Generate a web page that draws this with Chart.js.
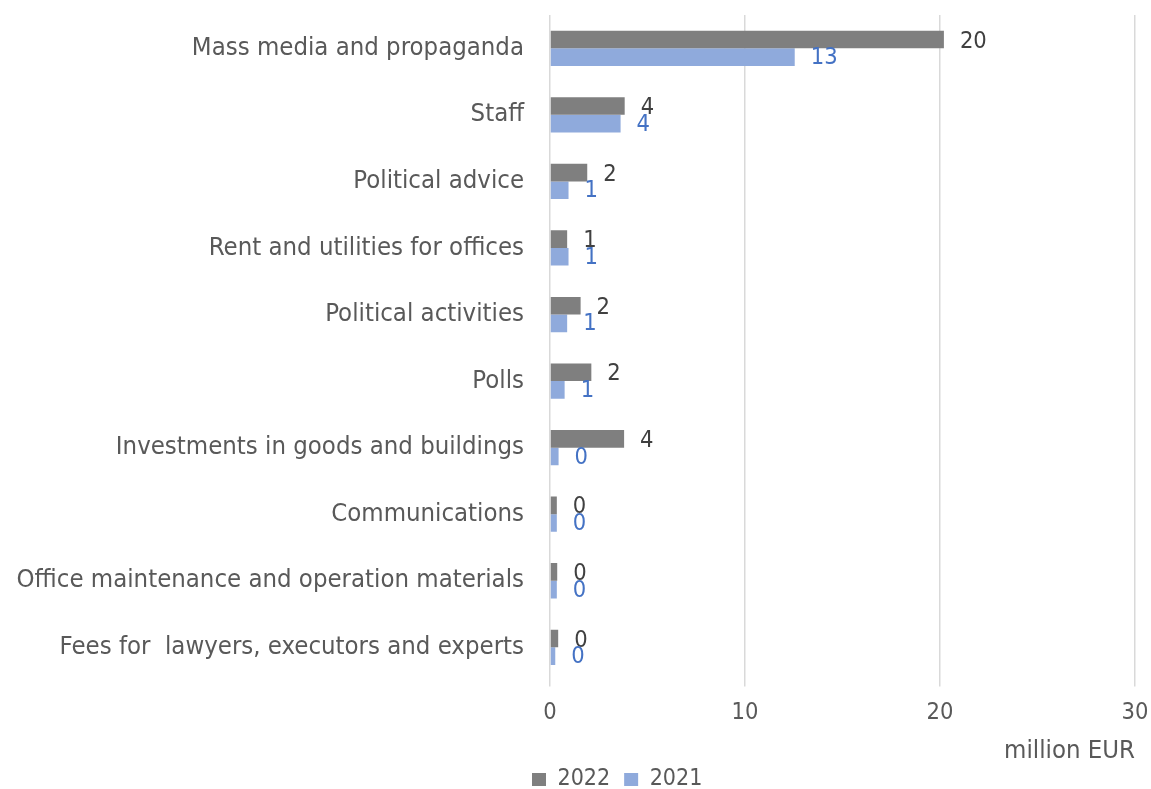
<!DOCTYPE html>
<html>
<head>
<meta charset="utf-8">
<title>Campaign spending by category</title>
<script src="https://cdn.jsdelivr.net/npm/chart.js@4.4.1/dist/chart.umd.min.js"></script>
<style>
  html, body { margin: 0; padding: 0; background: #fff; }
  canvas { display: block; }
</style>
</head>
<body>
<canvas id="spendingChart" width="1151" height="789"></canvas>
<script>
const categories = [
    'Mass media and propaganda',
    'Staff',
    'Political advice',
    'Rent and utilities for offices',
    'Political activities',
    'Polls',
    'Investments in goods and buildings',
    'Communications',
    'Office maintenance and operation materials',
    'Fees for  lawyers, executors and experts'
];
const seriesNames = ['2022', '2021'];
const values2022 = [20.2, 3.83, 1.91, 0.88, 1.57, 2.12, 3.8, 0.35, 0.37, 0.42];
const values2021 = [12.55, 3.62, 0.95, 0.95, 0.88, 0.75, 0.44, 0.35, 0.35, 0.27];
const xTicks = [0, 10, 20, 30];

const FONT = '"DejaVu Sans Condensed", "DejaVu Sans", sans-serif';
const textGray = '#595959';
const barColors = ['#7F7F7F', '#8FAADC'];
const labelColors = ['#404040', '#4472C4'];

Chart.defaults.font.family = FONT;
Chart.defaults.font.size = 22;
Chart.defaults.color = textGray;

// numbers printed just past the end of each bar
const valueLabels = {
    id: 'valueLabels',
    afterDatasetsDraw(chart) {
        const ctx = chart.ctx;
        ctx.save();
        ctx.font = '23.5px ' + FONT;
        ctx.textBaseline = 'middle';
        ctx.textAlign = 'left';
        chart.data.datasets.forEach((ds, i) => {
            ctx.fillStyle = labelColors[i];
            chart.getDatasetMeta(i).data.forEach((bar, j) => {
                ctx.fillText(String(Math.round(ds.data[j])), bar.x + 16, bar.y + (i === 0 ? 2 : 1));
            });
        });
        ctx.restore();
    }
};

// legend sits under the value axis, a bit lower than the layout puts it
const legendShift = {
    id: 'legendShift',
    afterLayout(chart) {
        const lg = chart.legend;
        const w = lg.right - lg.left;
        lg.left = 518;
        lg.right = 518 + w;
        lg.top += 12;
        lg.bottom += 12;
    }
};

new Chart(document.getElementById('spendingChart'), {
    type: 'bar',
    data: {
        labels: categories,
        datasets: [
            { label: seriesNames[0], data: values2022, backgroundColor: barColors[0] },
            { label: seriesNames[1], data: values2021, backgroundColor: barColors[1] }
        ]
    },
    options: {
        indexAxis: 'y',
        responsive: false,
        animation: false,
        datasets: {
            bar: { categoryPercentage: 0.53, barPercentage: 1, borderWidth: 0 }
        },
        layout: { padding: { top: 15, right: 16, left: 0, bottom: 0 } },
        plugins: {
            tooltip: { enabled: false },
            legend: {
                position: 'bottom',
                align: 'start',
                labels: { boxWidth: 14, boxHeight: 13, padding: 14, color: textGray, font: { size: 23 } }
            }
        },
        scales: {
            x: {
                min: xTicks[0],
                max: xTicks[xTicks.length - 1],
                afterBuildTicks: s => { s.ticks = xTicks.map(v => ({ value: v })); },
                afterFit: s => {
                    s.height = 61.4;
                    s.paddingLeft = 0;
                    s.paddingRight = 0;
                },
                grid: { color: '#D9D9D9', lineWidth: 1.5, tickLength: 6 },
                border: { display: false },
                ticks: { color: textGray, padding: 12, font: { size: 23.5 } },
                title: {
                    display: true,
                    text: 'million EUR',
                    align: 'end',
                    color: textGray,
                    font: { size: 25.5 },
                    padding: { top: 0, bottom: -25 }
                }
            },
            y: {
                grid: { display: false, drawTicks: false },
                border: { display: false },
                ticks: { color: textGray, padding: 26, autoSkip: false, font: { size: 25.5 } },
                afterFit: s => {
                    s.width = 550;
                    s.paddingTop = 0;
                    s.paddingBottom = 0;
                }
            }
        }
    },
    plugins: [valueLabels, legendShift]
});
</script>
</body>
</html>
